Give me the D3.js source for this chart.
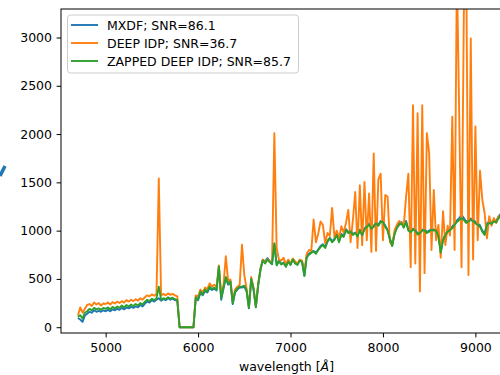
<!DOCTYPE html>
<html>
<head>
<meta charset="utf-8">
<script src="https://cdn.jsdelivr.net/npm/d3@7"></script>
<style>
  html, body { margin: 0; padding: 0; background: #fff; }
  svg { display: block; font-family: "DejaVu Sans", sans-serif; }
</style>
</head>
<body>
<div id="wrapper"></div>
<script>
// wavelength grid of the spectra (Angstrom)
const wavelengths = d3.range(4700, 9401, 25);

const seriesNames = ['MXDF; SNR=86.1', 'DEEP IDP; SNR=36.7', 'ZAPPED DEEP IDP; SNR=85.7'];
const seriesColors = ['#1f77b4', '#ff7f0e', '#2ca02c'];

// flux values, one row per 100 A
const mxdf = [
  95, 80, 55, 120,
  140, 160, 150, 175,
  160, 170, 160, 175,
  165, 180, 165, 185,
  175, 190, 180, 200,
  185, 205, 195, 210,
  200, 215, 205, 230,
  215, 245, 265, 255,
  280, 265, 285, 300,
  275, 290, 280, 300,
  285, 295, 280, 275,
  0, 0, 0, 0,
  0, 0, 0, 300,
  280, 355, 330, 375,
  360, 405, 385, 400,
  380, 620, 285, 400,
  510, 440, 465, 240,
  360, 390, 410, 410,
  420, 370, 195, 490,
  390, 205, 430, 590,
  700, 680, 715, 685,
  660, 860, 650, 690,
  655, 670, 630, 690,
  650, 705, 665, 650,
  695, 680, 535, 740,
  760, 780, 790, 770,
  805, 840, 860, 830,
  895, 925, 890, 915,
  965, 890, 965, 945,
  1015, 985, 1000, 965,
  980, 950, 1010, 960,
  1020, 1050, 1075, 1030,
  1050, 1085, 1060, 1100,
  1095, 1050, 1010, 920,
  850, 970, 1035, 1075,
  1090, 1040, 1100, 1010,
  995, 1020, 1010, 970,
  985, 1010, 1015, 985,
  1000, 1020, 1010, 1010,
  950, 780, 910, 960,
  1000, 1015, 1040, 1075,
  1105, 1130, 1165, 1130,
  1095, 1110, 1125, 1115,
  1090, 1075, 1055, 1000,
  965, 1075, 1095, 1085,
  1110, 1100, 1145, 1175,
  1155, 1185, 1165, 1180,
  1175
];

const deepIdp = [
  120, 205, 150, 190,
  230, 240, 220, 255,
  235, 250, 225, 245,
  240, 255, 235, 260,
  245, 265, 250, 270,
  255, 280, 265, 285,
  270, 290, 275, 300,
  285, 310, 330, 320,
  340, 325, 345, 1540,
  330, 345, 330, 350,
  335, 345, 330, 320,
  0, 0, 0, 0,
  0, 0, 0, 330,
  320, 390, 360, 410,
  395, 455, 420, 440,
  415, 640, 330, 440,
  735, 480, 495, 270,
  390, 420, 440, 855,
  540, 400, 210, 520,
  410, 215, 450, 610,
  700, 670, 705, 680,
  665, 2010, 820, 700,
  690, 720, 650, 700,
  660, 710, 680, 660,
  700, 690, 575, 760,
  800, 790, 1115, 880,
  970, 1095, 1060, 870,
  975, 945, 1235, 930,
  1000, 920, 1045, 980,
  1080, 1215, 880, 1110,
  1400, 820, 1470, 850,
  1505, 900, 1385, 780,
  1800, 790, 1530, 1590,
  900, 1370, 1350, 880,
  850, 1000, 1060, 1100,
  1080, 1050, 1350, 1590,
  620, 2300, 660, 2215,
  370, 2300, 560, 2010,
  1800, 800, 1420, 900,
  1060, 720, 1200, 850,
  1050, 950, 2180, 800,
  3700, 2200, 620, 3250,
  3900, 540, 2990, 700,
  2080, 900, 1620, 1320,
  1180, 920, 1150, 1050,
  1130, 1080, 1150, 1120,
  1150, 1180, 1160, 1170,
  1170
];

const zappedIdp = [
  105, 125, 90, 150,
  165, 190, 175, 200,
  185, 195, 180, 200,
  190, 205, 185, 210,
  195, 215, 200, 225,
  205, 230, 215, 235,
  220, 240, 225, 250,
  235, 265, 285, 270,
  295, 280, 300, 420,
  285, 300, 290, 310,
  295, 305, 290, 280,
  0, 0, 0, 0,
  0, 0, 0, 310,
  290, 370, 340, 390,
  370, 420, 395, 410,
  390, 630, 300, 410,
  520, 450, 475, 250,
  370, 400, 420, 420,
  430, 380, 200, 500,
  400, 210, 440, 600,
  690, 660, 700, 675,
  650, 870, 640, 680,
  650, 665, 625, 680,
  645, 700, 660, 645,
  690, 675, 530, 720,
  750, 770, 785, 760,
  800, 830, 850, 820,
  885, 920, 880, 905,
  955, 880, 955, 935,
  1005, 975, 990, 955,
  975, 940, 1000, 950,
  1010, 1040, 1060, 1020,
  1040, 1075, 1050, 1090,
  1090, 1040, 1000, 910,
  840, 960, 1025, 1060,
  1075, 1030, 1090, 1000,
  985, 1010, 1000, 960,
  975, 1000, 1005, 975,
  990, 1010, 1000, 1000,
  940, 770, 900, 950,
  990, 1005, 1025, 1060,
  1090, 1110, 1130, 1110,
  1080, 1095, 1110, 1100,
  1075, 1060, 1040, 990,
  955, 1060, 1080, 1070,
  1095, 1085, 1130, 1160,
  1140, 1170, 1150, 1165,
  1160
];

const xTicks = [5000, 6000, 7000, 8000, 9000];
const yTicks = [0, 500, 1000, 1500, 2000, 2500, 3000];

const width = 500;
const height = 375;
const fontSize = '12.5px';
// the axes run past the right edge of the picture (cropped figure)
const axLeft = 61, axRight = 529, axTop = 9, axBottom = 333;

const x = d3.scaleLinear().domain([4517, 9580]).range([axLeft, axRight]);
const y = d3.scaleLinear().domain([-60, 3295]).range([axBottom, axTop]);

const svg = d3.select('#wrapper')
  .append('svg')
  .attr('width', width)
  .attr('height', height);

svg.append('defs')
  .append('clipPath')
  .attr('id', 'plotClip')
  .append('rect')
  .attr('x', axLeft)
  .attr('y', axTop)
  .attr('width', axRight - axLeft)
  .attr('height', axBottom - axTop);

// sliver of the neighbouring panel, cut off at the left edge
svg.append('path')
  .attr('d', 'M0,176 L5,166')
  .attr('stroke', '#1f77b4')
  .attr('stroke-width', 3.5)
  .attr('fill', 'none');

const line = d3.line()
  .x((d, i) => x(wavelengths[i]))
  .y(d => y(d));

const plot = svg.append('g').attr('clip-path', 'url(#plotClip)');

[mxdf, deepIdp, zappedIdp].forEach((values, k) => {
  plot.append('path')
    .datum(values)
    .attr('d', line)
    .attr('fill', 'none')
    .attr('stroke', seriesColors[k])
    .attr('stroke-width', 1.9)
    .attr('stroke-linejoin', 'round');
});

const xAxis = svg.append('g')
  .attr('transform', 'translate(0,' + axBottom + ')')
  .call(d3.axisBottom(x).tickValues(xTicks).tickFormat(d3.format('d')).tickSize(4.4).tickPadding(5.6));

const yAxis = svg.append('g')
  .attr('transform', 'translate(' + axLeft + ',0)')
  .call(d3.axisLeft(y).tickValues(yTicks).tickFormat(d3.format('d')).tickSize(4.4).tickPadding(4.6));

[xAxis, yAxis].forEach(ax => {
  ax.select('.domain').remove();
  ax.selectAll('line').attr('stroke', '#000').attr('stroke-width', 1);
  ax.selectAll('text')
    .attr('fill', '#000')
    .style('font-family', '"DejaVu Sans", sans-serif')
    .style('font-size', fontSize);
});

// spines
svg.append('rect')
  .attr('x', axLeft)
  .attr('y', axTop)
  .attr('width', axRight - axLeft)
  .attr('height', axBottom - axTop)
  .attr('fill', 'none')
  .attr('stroke', '#000')
  .attr('stroke-width', 1);

const xLabel = svg.append('text')
  .attr('x', 286.5)
  .attr('y', 371)
  .attr('text-anchor', 'middle')
  .style('font-size', fontSize)
  .attr('fill', '#000');
xLabel.append('tspan').text('wavelength [');
xLabel.append('tspan').style('font-style', 'italic').text('Å');
xLabel.append('tspan').text(']');

// legend
const legend = svg.append('g');
legend.append('rect')
  .attr('x', 67.5)
  .attr('y', 15)
  .attr('width', 231)
  .attr('height', 58)
  .attr('rx', 3)
  .attr('fill', 'rgba(255,255,255,0.8)')
  .attr('stroke', '#cccccc')
  .attr('stroke-width', 1);

seriesNames.forEach((name, i) => {
  const rowY = 25 + i * 18;
  legend.append('line')
    .attr('x1', 71)
    .attr('x2', 98)
    .attr('y1', rowY)
    .attr('y2', rowY)
    .attr('stroke', seriesColors[i])
    .attr('stroke-width', 1.9);
  legend.append('text')
    .attr('x', 107)
    .attr('y', rowY)
    .attr('dy', '0.36em')
    .style('font-size', fontSize)
    .attr('fill', '#000')
    .text(name);
});
</script>
</body>
</html>
